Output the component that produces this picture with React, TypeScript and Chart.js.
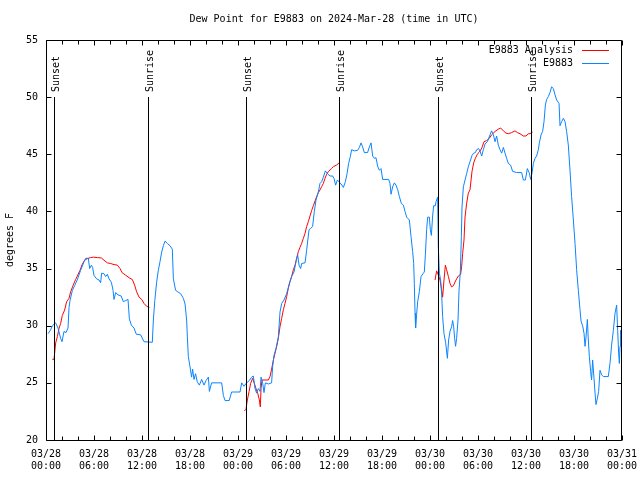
import React, { useEffect, useRef } from 'react';
import { Chart, registerables } from 'chart.js';

Chart.register(...registerables);

// ---------- text ----------
const TITLE = 'Dew Point for E9883 on 2024-Mar-28 (time in UTC)';
const Y_TITLE = 'degrees F';
const DAY_LABELS = ['03/28', '03/29', '03/30', '03/31'];
const HOUR_LABELS = ['00:00', '06:00', '12:00', '18:00'];
const SERIES_ANALYSIS = 'E9883 Analysis';
const SERIES_OBS = 'E9883';

// ---------- axes (hours since 03/28 00:00 UTC, degrees F) ----------
const X_MIN = 0;
const X_MAX = 72;
const X_STEP = 2;
const X_LABEL_EVERY = 6;
const Y_MIN = 20;
const Y_MAX = 55;
const Y_STEP = 5;

// ---------- sunrise / sunset markers ----------
const EVENT_HOURS = [1.03, 12.78, 25.03, 36.67, 49.04, 60.67];
const EVENT_NAMES = ['Sunset', 'Sunrise', 'Sunset', 'Sunrise', 'Sunset', 'Sunrise'];
const EVENT_LINE_TOP = 50; // degrees F where the marker lines begin

// ---------- observations (E9883) ----------
const OBS_HOURS = [
  0.25, 0.55, 0.8, 1.2, 1.5, 1.83, 2.0, 2.25, 2.5, 2.75, 2.88, 3.0, 3.3, 3.58, 3.9, 4.33, 4.75, 4.96,
  5.29, 5.46, 5.67, 5.83, 6.0, 6.33, 6.63, 6.83, 6.96, 7.25, 7.46, 7.67, 7.88, 8.17, 8.38, 8.5, 8.71,
  9.0, 9.4, 9.67, 9.96, 10.25, 10.42, 10.67, 11.0, 11.29, 11.83, 12.25, 13.29, 13.42, 13.6, 13.83,
  14.04, 14.25, 14.46, 14.67, 14.88, 15.17, 15.5, 15.79, 15.92, 16.2, 16.4, 16.83, 17.17, 17.38,
  17.58, 17.67, 17.79, 18.0, 18.2, 18.33, 18.5, 18.7, 18.9, 19.17, 19.46, 19.75, 20.0, 20.3, 20.42,
  20.7, 21.96, 22.17, 22.38, 22.9, 23.2, 24.25, 24.46, 24.75, 25.08, 25.42, 25.7, 25.92, 26.13,
  26.33, 26.54, 26.75, 26.88, 27.08, 27.25, 27.42, 27.8, 28.2, 28.33, 28.5, 28.75, 29.04, 29.25,
  29.46, 29.75, 30.08, 30.42, 30.7, 31.0, 31.25, 31.46, 31.63, 31.83, 31.96, 32.38, 32.58, 32.88,
  33.08, 33.33, 33.54, 33.75, 34.04, 34.25, 34.46, 34.67, 34.92, 35.17, 35.5, 35.83, 36.0, 36.2,
  36.42, 36.75, 36.88, 37.17, 37.42, 37.63, 37.83, 38.04, 38.2, 38.54, 38.96, 39.17, 39.38, 39.58,
  39.79, 40.2, 40.42, 40.63, 40.83, 41.04, 41.25, 41.46, 41.67, 41.88, 42.08, 42.83, 43.0, 43.13,
  43.33, 43.54, 43.75, 43.96, 44.17, 44.42, 44.67, 44.88, 45.08, 45.42, 45.63, 45.83, 45.96, 46.04,
  46.13, 46.2, 46.33, 46.46, 46.67, 46.88, 47.17, 47.29, 47.42, 47.58, 47.71, 47.92, 48.04, 48.17,
  48.33, 48.46, 48.67, 48.75, 48.96, 49.04, 49.17, 49.33, 49.46, 49.58, 49.75, 49.96, 50.17, 50.33,
  50.5, 50.7, 50.83, 50.96, 51.08, 51.2, 51.33, 51.5, 51.63, 51.79, 51.92, 52.0, 52.17, 52.38,
  52.58, 52.79, 53.0, 53.25, 53.46, 53.67, 53.83, 54.08, 54.3, 54.46, 54.67, 54.88, 55.17, 55.5,
  55.7, 55.92, 56.13, 56.33, 56.54, 56.75, 56.96, 57.17, 57.38, 57.58, 57.79, 58.08, 58.33, 58.83,
  59.46, 59.67, 59.92, 60.17, 60.42, 60.58, 60.75, 60.92, 61.13, 61.33, 61.54, 61.67, 61.88, 62.08,
  62.25, 62.42, 62.58, 62.79, 63.0, 63.2, 63.42, 63.63, 63.83, 64.13, 64.25, 64.46, 64.67, 64.88,
  65.08, 65.29, 65.5, 65.7, 65.92, 66.13, 66.33, 66.54, 66.75, 66.88, 67.08, 67.25, 67.38, 67.5,
  67.67, 67.79, 67.92, 68.08, 68.2, 68.33, 68.5, 68.63, 68.75, 68.92, 69.08, 69.25, 69.46, 69.67,
  70.29, 70.5, 70.7, 70.92, 71.13, 71.33, 71.46, 71.58, 71.67, 71.75, 71.83, 71.92, 72.0,
];
const OBS_VALUES = [
  29.3, 29.6, 30.0, 30.25, 29.8, 28.9, 28.6, 29.5, 29.4, 29.8, 31.6, 32.2, 33.1, 33.5, 34.0, 34.85, 35.6, 35.9,
  35.9, 35.0, 35.3, 35.1, 34.4, 34.1, 34.0, 33.75, 34.6, 34.55, 34.3, 34.5, 34.1, 33.8, 33.1, 32.3, 32.9,
  32.7, 32.6, 32.1, 32.2, 32.3, 30.6, 30.05, 29.8, 29.25, 29.2, 28.6, 28.55, 30.5, 32.2, 33.8,
  34.85, 35.6, 36.45, 37.0, 37.4, 37.2, 37.0, 36.7, 34.1, 33.1, 33.0, 32.8, 32.4, 31.9,
  30.5, 29.0, 27.3, 26.4, 25.5, 26.2, 25.3, 25.8, 25.1, 24.8, 25.3, 24.8, 25.2, 25.5, 24.25,
  25.0, 25.0, 23.9, 23.45, 23.45, 24.2, 24.2, 25.0, 24.7, 25.0, 25.2, 25.5, 25.6, 24.5,
  24.1, 24.5, 24.25, 25.5, 25.0, 24.15, 25.0, 24.9, 25.0, 26.4, 27.4, 28.0, 29.0, 31.2,
  31.95, 32.25, 32.8, 33.7, 34.3, 34.7, 35.6, 36.2, 35.3, 35.0, 35.45, 35.5, 36.6, 38.4,
  38.5, 38.7, 40.0, 41.0, 41.7, 42.45, 42.6, 43.0, 43.55, 43.3, 43.1, 43.1, 42.9, 42.3,
  42.75, 42.5, 42.4, 42.1, 42.6, 43.3, 44.2, 44.8, 45.4, 45.3, 45.35, 45.6, 46.0, 45.65,
  45.15, 45.15, 45.65, 46.0, 44.85, 44.65, 44.7, 43.95, 43.6, 43.75, 42.8, 42.8, 42.45, 41.5,
  42.15, 42.5, 42.3, 41.9, 41.3, 40.7, 40.55, 40.0, 39.5, 39.25, 37.8, 36.5, 35.45, 33.7,
  31.1, 29.8, 31.0, 32.1, 33.0, 34.3, 34.6, 34.7, 36.2, 38.4, 39.5, 39.5, 38.4, 37.9,
  39.6, 40.5, 40.5, 40.85, 41.25, 36.9, 34.6, 34.0, 32.7, 30.8, 29.3, 28.5, 27.15, 28.75,
  29.5, 29.9, 30.45, 29.9, 28.9, 28.2, 28.9, 30.5, 33.1, 34.7, 37.8, 40.4, 42.15, 42.75,
  43.3, 43.9, 44.35, 44.9, 45.1, 45.15, 45.4, 45.5, 45.2, 44.85, 45.4, 45.9, 46.1, 46.7,
  47.05, 46.7, 46.1, 46.6, 45.8, 45.4, 45.1, 45.6, 45.1, 44.65, 44.2, 44.05, 43.5, 43.4,
  43.4, 42.75, 42.75, 43.75, 43.35, 42.8, 43.35, 44.2, 44.65, 44.85, 45.4, 46.0, 46.7, 47.0,
  47.85, 49.3, 49.8, 50.05, 50.4, 50.9, 50.75, 50.2, 49.75, 49.45, 47.5, 47.85, 48.15, 47.85,
  47.0, 45.8, 43.6, 41.3, 39.25, 37.2, 34.9, 33.1, 31.4, 30.4, 30.0, 29.35, 28.2, 29.0,
  30.55, 28.75, 27.3, 26.0, 25.25, 27.0, 25.4, 24.1, 23.1, 23.65, 24.25, 26.1, 25.7, 25.55,
  25.55, 26.7, 28.3, 29.6, 31.1, 31.8, 29.6, 27.6, 26.7, 28.2, 29.6, 28.2, 30.0,
];

// ---------- analysis (E9883 Analysis); null = no analysis ----------
const ANL_HOURS = [
  0.79, 1.0, 1.21, 1.42, 1.63, 1.83, 2.04, 2.33, 2.58, 2.88, 3.08, 3.4, 3.7, 3.9, 4.25, 4.54, 4.83,
  5.17, 5.58, 5.92, 6.42, 6.92, 7.25, 7.67, 8.08, 8.5, 8.92, 9.25, 9.54, 9.96, 10.38, 10.79, 11.08,
  11.33, 11.63, 11.96, 12.25, 12.58, 12.92,
  18.0,
  24.79, 25.0, 25.17, 25.38, 25.58, 25.83, 26.04, 26.25, 26.46, 26.67, 26.79, 26.88, 27.0, 27.38,
  27.79, 28.0, 28.2, 28.42, 28.63, 28.83, 29.04, 29.25, 29.46, 29.67, 29.88, 30.08, 30.29, 30.5,
  30.7, 30.92, 31.13, 31.33, 31.54, 31.75, 31.96, 32.17, 32.38, 32.58, 32.79, 33.0, 33.2, 33.42,
  33.63, 33.83, 34.04, 34.25, 34.46, 34.67, 34.88, 35.08, 35.29, 35.5, 35.7, 35.92, 36.33, 36.67,
  42.0,
  48.63, 48.83, 49.0, 49.25, 49.42, 49.58, 49.75, 49.92, 50.08, 50.3, 50.5, 50.7, 50.92, 51.25,
  51.54, 51.83, 51.96, 52.08, 52.25, 52.38, 52.58, 52.79, 53.0, 53.25, 53.46, 53.67, 53.88, 54.08,
  54.29, 54.5, 54.75, 55.08, 55.42, 55.7, 56.13, 56.54, 56.83, 57.17, 57.5, 57.79, 58.2, 58.63,
  58.92, 59.25, 59.67, 60.0, 60.29, 60.5, 60.83,
];
const ANL_VALUES = [
  27.06, 27.06, 28.5, 29.04, 29.77, 30.2, 30.9, 31.37, 32.1, 32.4, 32.97, 33.55, 34.04, 34.33, 34.85, 35.38, 35.73,
  35.87, 35.96, 36.0, 35.96, 35.93, 35.73, 35.5, 35.44, 35.35, 35.3, 35.0, 34.62, 34.42, 34.2, 34.04, 33.55,
  32.97, 32.5, 32.3, 31.95, 31.7, 31.6,
  null,
  22.54, 22.69, 23.5, 24.23, 24.96, 25.4, 24.96, 24.5, 24.1, 23.5, 22.9, 24.5, 25.25, 25.25,
  25.25, 25.54, 26.2, 27.0, 27.6, 28.17, 28.9, 29.92, 30.65, 31.4, 31.96, 32.54, 33.27, 33.86,
  34.29, 34.9, 35.3, 35.9, 36.48, 36.86, 37.21, 37.65, 38.08, 38.67, 39.1, 39.6, 40.07, 40.5,
  40.91, 41.29, 41.64, 41.88, 42.17, 42.46, 42.9, 43.25, 43.48, 43.63, 43.77, 43.92, 44.06, 44.27,
  null,
  34.0, 34.8, 34.5, 34.0, 33.3, 32.5, 34.0, 35.3, 34.9, 34.3, 33.7, 33.4, 33.5, 34.0,
  34.35, 34.5, 35.2, 36.3, 37.5, 39.5, 40.7, 41.6, 41.9, 43.5, 44.25, 44.65, 44.95, 45.15,
  45.3, 45.6, 46.1, 46.2, 46.4, 46.7, 47.0, 47.2, 47.3, 47.05, 46.85, 46.8, 46.9, 47.05,
  46.9, 46.8, 46.6, 46.6, 46.8, 46.8, 46.95,
];

// ---------- styles ----------
const FONT_FAMILY = '"DejaVu Sans Mono", "Liberation Mono", monospace';
const FONT_SIZE = 10;
const FONT = `${FONT_SIZE}px ${FONT_FAMILY}`;
const RED = '#ff0000';
const BLUE = '#0a84ff';
const INK = '#000000';

const gnuplotFrame = {
  id: 'gnuplotFrame',
  afterDatasetsDraw(chart: any) {
    const { ctx, chartArea: a, scales } = chart;
    const xs = scales.x;
    const ys = scales.y;
    const L = Math.round(a.left) + 0.5;
    const R = Math.round(a.right) - 0.5;
    const T = Math.round(a.top) + 0.5;
    const B = Math.round(a.bottom) + 0.5;
    ctx.save();
    ctx.strokeStyle = INK;
    ctx.fillStyle = INK;
    ctx.lineWidth = 1;
    ctx.font = FONT;

    // sunrise / sunset markers
    const lineTop = Math.round(ys.getPixelForValue(EVENT_LINE_TOP));
    EVENT_HOURS.forEach((h, i) => {
      const px = Math.round(xs.getPixelForValue(h)) + 0.5;
      ctx.beginPath();
      ctx.moveTo(px, lineTop);
      ctx.lineTo(px, B);
      ctx.stroke();
      ctx.save();
      ctx.translate(px, lineTop - 5);
      ctx.rotate(-Math.PI / 2);
      ctx.textAlign = 'left';
      ctx.textBaseline = 'alphabetic';
      ctx.fillText(EVENT_NAMES[i], 0, 4);
      ctx.restore();
    });

    // border
    ctx.beginPath();
    ctx.rect(L, T, R - L, B - T);
    ctx.stroke();

    // inward tick marks, mirrored
    ctx.beginPath();
    for (let v = Y_MIN; v <= Y_MAX; v += Y_STEP) {
      const py = Math.round(ys.getPixelForValue(v)) + 0.5;
      ctx.moveTo(L, py); ctx.lineTo(L + 5, py);
      ctx.moveTo(R, py); ctx.lineTo(R - 5, py);
    }
    for (let h = X_MIN; h <= X_MAX; h += X_STEP) {
      const px = Math.round(xs.getPixelForValue(h)) + 0.5;
      const len = h % X_LABEL_EVERY === 0 ? 5 : 4;
      ctx.moveTo(px, B); ctx.lineTo(px, B - len);
      ctx.moveTo(px, T); ctx.lineTo(px, T + len);
    }
    ctx.stroke();

    // title
    ctx.textAlign = 'center';
    ctx.textBaseline = 'middle';
    ctx.fillText(TITLE, (a.left + a.right) / 2, 19);

    // key (text then sample, gnuplot style)
    chart.data.datasets.forEach((ds: any, i: number) => {
      const y = Math.round(a.top + 10 + i * 13) + 0.5;
      ctx.textAlign = 'right';
      ctx.textBaseline = 'middle';
      ctx.fillStyle = INK;
      ctx.fillText(ds.label, a.right - 49, y);
      ctx.strokeStyle = ds.borderColor;
      ctx.beginPath();
      ctx.moveTo(a.right - 40, y);
      ctx.lineTo(a.right - 13, y);
      ctx.stroke();
    });
    ctx.restore();
  },
};

function xTickLabel(h: number): string | string[] {
  if (h % X_LABEL_EVERY !== 0) return '';
  const day = Math.floor(h / 24);
  const slot = (h % 24) / X_LABEL_EVERY;
  return [DAY_LABELS[day], HOUR_LABELS[slot]];
}

export default function App() {
  const canvasRef = useRef<HTMLCanvasElement | null>(null);

  useEffect(() => {
    document.body.style.margin = '0';
    document.body.style.background = '#ffffff';
    const canvas = canvasRef.current;
    if (!canvas) return;

    const obs = OBS_HOURS.map((h, i) => ({ x: h, y: OBS_VALUES[i] }));
    const anl = ANL_HOURS.map((h, i) => ({ x: h, y: ANL_VALUES[i] }));
    const font = { family: FONT_FAMILY, size: FONT_SIZE };

    const chart = new Chart(canvas, {
      type: 'line',
      data: {
        datasets: [
          {
            label: SERIES_ANALYSIS,
            data: anl,
            borderColor: RED,
            borderWidth: 1,
            pointRadius: 0,
            tension: 0,
            spanGaps: false,
            order: 2,
          },
          {
            label: SERIES_OBS,
            data: obs,
            borderColor: BLUE,
            borderWidth: 1,
            pointRadius: 0,
            tension: 0,
            order: 1,
          },
        ],
      },
      options: {
        responsive: false,
        animation: false,
        devicePixelRatio: 1,
        events: [],
        layout: { padding: { top: 40, right: 18, left: 0, bottom: 0 } },
        plugins: {
          legend: { display: false },
          title: { display: false },
          tooltip: { enabled: false },
        },
        scales: {
          x: {
            type: 'linear',
            min: X_MIN,
            max: X_MAX,
            grid: { display: false, drawTicks: false, tickLength: 0 },
            border: { display: false },
            afterFit: (s: any) => { s.height = 40; s.paddingLeft = 0; s.paddingRight = 0; },
            ticks: {
              stepSize: X_STEP,
              autoSkip: false,
              maxRotation: 0,
              minRotation: 0,
              padding: 8,
              color: INK,
              font,
              callback: (v: any) => xTickLabel(Number(v)),
            },
          },
          y: {
            type: 'linear',
            min: Y_MIN,
            max: Y_MAX,
            grid: { display: false, drawTicks: false, tickLength: 0 },
            border: { display: false },
            afterFit: (s: any) => { s.width = 46; s.paddingTop = 0; s.paddingBottom = 0; },
            title: {
              display: true,
              text: Y_TITLE,
              color: INK,
              font,
              padding: { top: 4, bottom: 0 },
            },
            ticks: {
              stepSize: Y_STEP,
              padding: 8,
              color: INK,
              font,
            },
          },
        },
      },
      plugins: [gnuplotFrame],
    });

    return () => chart.destroy();
  }, []);

  return (
    <div style={{ width: 640, height: 480, background: '#fff' }}>
      <canvas ref={canvasRef} width={640} height={480} style={{ display: 'block' }} />
    </div>
  );
}
